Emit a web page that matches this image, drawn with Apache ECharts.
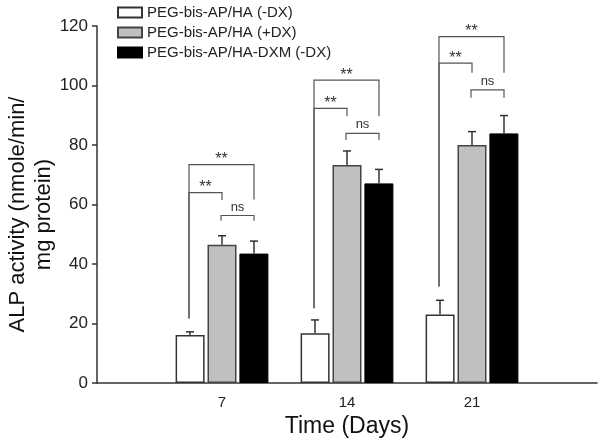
<!DOCTYPE html>
<html>
<head>
<meta charset="UTF-8">
<title>ALP activity</title>
<script src="https://cdn.jsdelivr.net/npm/echarts@6/dist/echarts.min.js"></script>
</head>
<body style="margin:0;background:#fff;">
<div id="main" style="width:600px;height:444px;"></div>
<script>
// values
var days = ['7', '14', '21'];
var seriesNames = ['PEG-bis-AP/HA (-DX)', 'PEG-bis-AP/HA (+DX)', 'PEG-bis-AP/HA-DXM (-DX)'];
var noDx = [16.1, 16.7, 23.0];
var plusDx = [46.5, 73.3, 80.0];
var dxm = [43.5, 67.1, 83.9];
var noDxErr = [1.1, 4.5, 4.8];
var plusDxErr = [3.0, 4.7, 4.5];
var dxmErr = [4.2, 4.7, 6.0];
var yTicks = [0, 20, 40, 60, 80, 100, 120];

// significance brackets: [day index, from bar, to bar, top, left leg end, right leg end]
var brackets = [
    [0, 0, 1, 64.0, 21.7, 61.5],
    [0, 0, 2, 73.4, 21.7, 61.7],
    [0, 1, 2, 56.3, 54.5, 54.5],
    [1, 0, 1, 92.3, 25.1, 89.7],
    [1, 0, 2, 101.8, 25.1, 89.7],
    [1, 1, 2, 83.9, 81.7, 81.7],
    [2, 0, 1, 107.5, 32.4, 104.3],
    [2, 0, 2, 116.4, 32.4, 104.3],
    [2, 1, 2, 98.5, 95.9, 95.9]
];
var bracketLabels = ['**', '**', 'ns', '**', '**', 'ns', '**', '**', 'ns'];

var FONT = 'Arial, "Liberation Sans", sans-serif';
var BAR_STEP = 32;

// empty slots at both ends, like the original axis
var categories = [''].concat(days).concat(['']);
function pad(arr) {
    return ['-'].concat(arr).concat(['-']);
}

var errData = [];
[[noDx, noDxErr], [plusDx, plusDxErr], [dxm, dxmErr]].forEach(function (pair, b) {
    for (var i = 0; i < days.length; i++) {
        errData.push([i + 1, pair[0][i], pair[1][i], b]);
    }
});
var bracketData = brackets.map(function (r) {
    return [r[0] + 1, r[3], r[1], r[2], r[4], r[5]];
});

var myChart = echarts.init(document.getElementById('main'));

var option = {
    animation: false,
    textStyle: {fontFamily: FONT},
    legend: {
        data: seriesNames,
        orient: 'vertical',
        left: 112,
        top: 0,
        itemWidth: 24,
        itemHeight: 10,
        itemGap: 5,
        icon: 'rect',
        textStyle: {fontSize: 15, color: '#222', fontFamily: FONT}
    },
    grid: {left: 97, right: 3, top: 26, bottom: 61, outerBoundsMode: 'none'},
    xAxis: {
        type: 'category',
        data: categories,
        boundaryGap: false,
        name: 'Time (Days)',
        nameLocation: 'middle',
        nameGap: 30,
        nameTextStyle: {fontSize: 23, color: '#111', fontFamily: FONT},
        axisLine: {lineStyle: {color: '#333', width: 1.5}},
        axisTick: {show: false},
        axisLabel: {fontSize: 15, color: '#222', margin: 12, interval: 0},
        splitLine: {show: false}
    },
    yAxis: {
        type: 'value',
        min: yTicks[0],
        max: yTicks[yTicks.length - 1],
        interval: yTicks[1] - yTicks[0],
        name: 'ALP activity (nmole/min/\nmg protein)',
        nameLocation: 'middle',
        nameGap: 40,
        nameRotate: 90,
        nameMoveOverlap: false,
        nameTextStyle: {fontSize: 22, color: '#111', lineHeight: 26, fontFamily: FONT, padding: [0, 20, 0, 0]},
        axisLine: {show: true, lineStyle: {color: '#333', width: 1.5}},
        axisTick: {show: true, length: 5, lineStyle: {color: '#333', width: 1.5}},
        axisLabel: {fontSize: 17, color: '#222', margin: 9},
        splitLine: {show: false}
    },
    series: [
        {
            name: seriesNames[0],
            type: 'bar',
            data: pad(noDx),
            barWidth: 29,
            barGap: '10%',
            itemStyle: {color: '#fff', borderColor: '#333', borderWidth: 1.5}
        },
        {
            name: seriesNames[1],
            type: 'bar',
            data: pad(plusDx),
            barWidth: 29,
            barGap: '10%',
            itemStyle: {color: '#c0c0c0', borderColor: '#444', borderWidth: 1.5}
        },
        {
            name: seriesNames[2],
            type: 'bar',
            data: pad(dxm),
            barWidth: 29,
            barGap: '10%',
            itemStyle: {color: '#000', borderColor: '#000', borderWidth: 1}
        },
        {
            // upper error bars
            name: 'err',
            type: 'custom',
            z: 5,
            data: errData,
            encode: {x: 0, y: 1},
            renderItem: function (params, api) {
                var c = api.value(0), v = api.value(1), e = api.value(2), b = api.value(3);
                var p0 = api.coord([c, v]);
                var p1 = api.coord([c, v + e]);
                var x = p0[0] + (b - 1) * BAR_STEP;
                var st = {stroke: '#333', lineWidth: 1.5};
                return {
                    type: 'group',
                    children: [
                        {type: 'line', shape: {x1: x, y1: p0[1], x2: x, y2: p1[1]}, style: st},
                        {type: 'line', shape: {x1: x - 4, y1: p1[1], x2: x + 4, y2: p1[1]}, style: st}
                    ]
                };
            }
        },
        {
            // significance brackets
            name: 'sig',
            type: 'custom',
            z: 6,
            clip: false,
            data: bracketData,
            encode: {x: 0, y: 1},
            renderItem: function (params, api) {
                var c = api.value(0), top = api.value(1);
                var from = api.value(2), to = api.value(3);
                var lEnd = api.value(4), rEnd = api.value(5);
                var mid = api.coord([c, top]);
                var xl = mid[0] + (from - 1) * BAR_STEP - 1;
                var xr = mid[0] + (to - 1) * BAR_STEP;
                var yl = api.coord([c, lEnd])[1];
                var yr = api.coord([c, rEnd])[1];
                var st = {stroke: '#555', lineWidth: 1.2, fill: null};
                var lbl = bracketLabels[params.dataIndex];
                var isStar = lbl === '**';
                return {
                    type: 'group',
                    children: [
                        {type: 'polyline', shape: {points: [[xl, yl], [xl, mid[1]], [xr, mid[1]], [xr, yr]]}, style: st},
                        {
                            type: 'text',
                            style: {
                                text: lbl,
                                x: (xl + xr) / 2,
                                y: mid[1] + (isStar ? 3 : -2),
                                align: 'center',
                                verticalAlign: 'bottom',
                                fontSize: isStar ? 16 : 13,
                                fontFamily: FONT,
                                fill: '#333'
                            }
                        }
                    ]
                };
            }
        }
    ]
};

myChart.setOption(option);
</script>
</body>
</html>
